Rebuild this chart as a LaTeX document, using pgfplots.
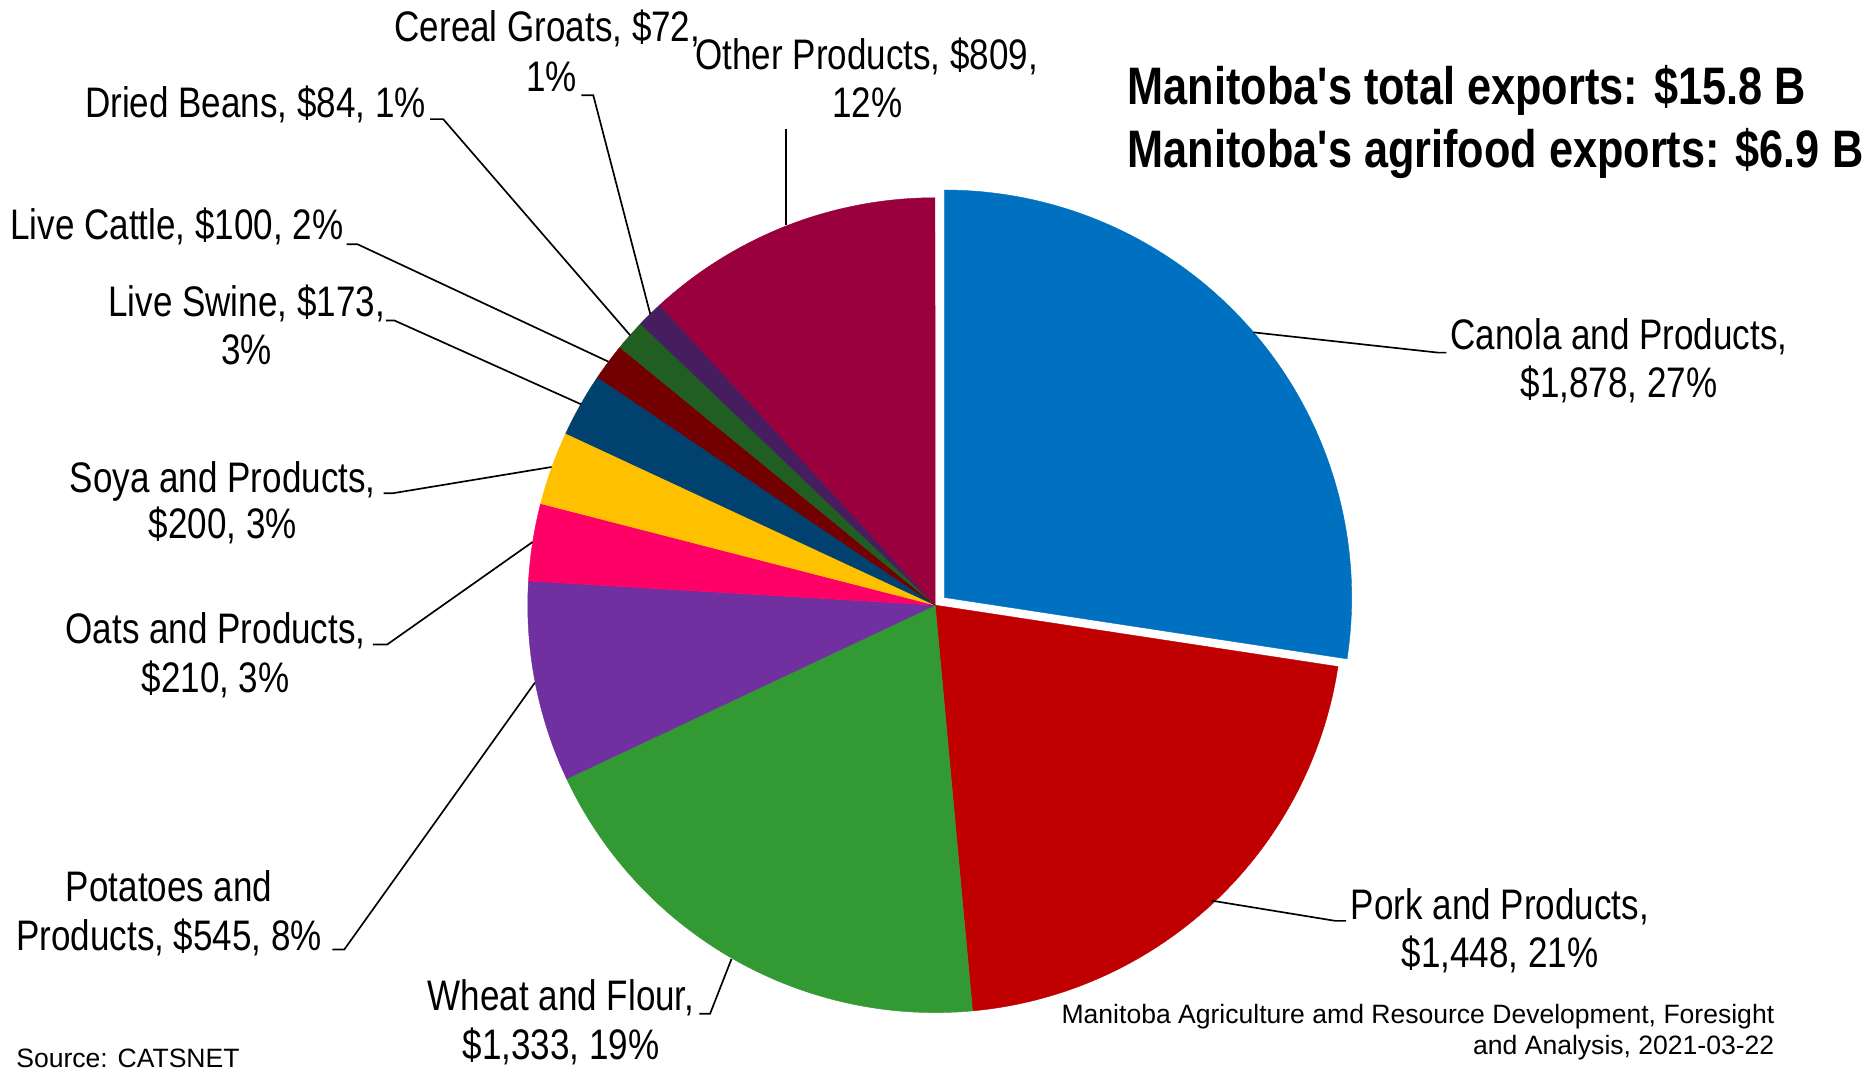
\documentclass[border=0pt]{standalone}
\usepackage{fontspec}
\setmainfont{Liberation Sans}
\newfontfamily\narrowfont[FakeStretch=0.82]{Liberation Sans}
\usepackage{pgfplots}
\pgfplotsset{compat=1.18}

\definecolor{cCanola}{HTML}{0070C0}
\definecolor{cPork}{HTML}{C00000}
\definecolor{cWheat}{HTML}{339933}
\definecolor{cPotato}{HTML}{7030A0}
\definecolor{cOats}{HTML}{FF0066}
\definecolor{cSoya}{HTML}{FFC000}
\definecolor{cSwine}{HTML}{00416F}
\definecolor{cCattle}{HTML}{720000}
\definecolor{cBeans}{HTML}{215E21}
\definecolor{cGroats}{HTML}{461E5F}
\definecolor{cOther}{HTML}{99003D}

% data (millions of dollars), clockwise from 12 o'clock
\def\vCanola{1878}
\def\vPork{1448}
\def\vWheat{1333}
\def\vPotato{545}
\def\vOats{210}
\def\vSoya{200}
\def\vSwine{173}
\def\vCattle{100}
\def\vBeans{84}
\def\vGroats{72}
\def\vOther{809}

\pgfmathsetmacro\total{\vCanola+\vPork+\vWheat+\vPotato+\vOats+\vSoya+\vSwine+\vCattle+\vBeans+\vGroats+\vOther}
\pgfmathsetmacro\aA{90}
\pgfmathsetmacro\aB{\aA-(\vCanola/\total)*360}
\pgfmathsetmacro\aC{\aB-(\vPork/\total)*360}
\pgfmathsetmacro\aD{\aC-(\vWheat/\total)*360}
\pgfmathsetmacro\aE{\aD-(\vPotato/\total)*360}
\pgfmathsetmacro\aF{\aE-(\vOats/\total)*360}
\pgfmathsetmacro\aG{\aF-(\vSoya/\total)*360}
\pgfmathsetmacro\aH{\aG-(\vSwine/\total)*360}
\pgfmathsetmacro\aI{\aH-(\vCattle/\total)*360}
\pgfmathsetmacro\aJ{\aI-(\vBeans/\total)*360}
\pgfmathsetmacro\aK{\aJ-(\vGroats/\total)*360}
\pgfmathsetmacro\aL{\aK-(\vOther/\total)*360}

\def\R{342}
\newcommand\pieslice[5]{%
  \addplot[fill=#1, draw=#1, line width=0.1pt, domain=#2:#3, samples=120, variable=\t]
    ({#4+\R*cos(\t)},{#5-\R*sin(\t)}) -- (#4,#5) -- cycle;}

\newcommand\lab{\narrowfont\fontsize{10.2}{11.7}\selectfont}
\newcommand\ttl{\narrowfont\bfseries\fontsize{12.6}{15}\selectfont}
\newcommand\foot{\fontsize{6.34}{7.4}\selectfont}

\begin{document}
\begin{tikzpicture}
\useasboundingbox (0,0) rectangle (15.68cm,8.99cm);
\begin{axis}[at={(0,0)}, anchor=south west, width=15.68cm, height=8.99cm,
  scale only axis, xmin=0, xmax=1568, ymin=0, ymax=899, y dir=reverse,
  hide axis, clip=false]

\pieslice{cCanola}{\aB}{\aA}{792.6}{501.5}
\pieslice{cPork}{\aC}{\aB}{785}{508}
\pieslice{cWheat}{\aD}{\aC}{785}{508}
\pieslice{cPotato}{\aE}{\aD}{785}{508}
\pieslice{cOats}{\aF}{\aE}{785}{508}
\pieslice{cSoya}{\aG}{\aF}{785}{508}
\pieslice{cSwine}{\aH}{\aG}{785}{508}
\pieslice{cCattle}{\aI}{\aH}{785}{508}
\pieslice{cBeans}{\aJ}{\aI}{785}{508}
\pieslice{cGroats}{\aK}{\aJ}{785}{508}
\pieslice{cOther}{\aL}{\aK}{785}{508}

% leader lines
\begin{scope}[line width=0.4pt, black]
\draw (1052,279) -- (1207,296) -- (1214,296);
\draw (1017,756) -- (1121,773) -- (1130,773);
\draw (614,805) -- (596,851) -- (587,851);
\draw (449,573) -- (289,797) -- (279,797);
\draw (447,455) -- (325,541) -- (313,541);
\draw (463,392) -- (330,414) -- (322,414);
\draw (487.6,339.3) -- (331,269) -- (324,269);
\draw (510.7,303.6) -- (300,205) -- (291,205);
\draw (528.9,281.4) -- (372,100) -- (361,100);
\draw (545.8,263.6) -- (498,80) -- (488,80);
\draw (660,189) -- (660,108);
\end{scope}

% labels
\begin{scope}[every node/.style={inner sep=0pt, anchor=base, font=\lab}]
\node at (1359,293) {Canola and Products,};
\node at (1359,334) {\$1,878, 27\%};
\node at (1259,772) {Pork and Products,};
\node at (1259,812) {\$1,448, 21\%};
\node at (471,848) {Wheat and Flour,};
\node at (471,889) {\$1,333, 19\%};
\node at (142,757) {Potatoes and};
\node at (142,798) {Products, \$545, 8\%};
\node at (181,540) {Oats and Products,};
\node at (181,581) {\$210, 3\%};
\node at (187,413) {Soya and Products,};
\node at (187,452) {\$200, 3\%};
\node at (207,266) {Live Swine, \$173,};
\node at (207,306) {3\%};
\node at (148.5,201) {Live Cattle, \$100, 2\%};
\node at (214.5,99) {Dried Beans, \$84, 1\%};
\node at (459.5,35) {Cereal Groats, \$72,};
\node at (463,77) {1\%};
\node at (727.5,58) {Other Products, \$809,};
\node at (728,99) {12\%};
\end{scope}

% titles
\node[inner sep=0pt, anchor=base west, font=\ttl] at (946,88) {Manitoba's total exports: \$15.8 B};
\node[inner sep=0pt, anchor=base west, font=\ttl] at (946,141) {Manitoba's agrifood exports: \$6.9 B};

% footer
\node[inner sep=0pt, anchor=base east, font=\foot] at (1490,859) {Manitoba Agriculture amd Resource Development, Foresight};
\node[inner sep=0pt, anchor=base east, font=\foot] at (1490,885) {and Analysis, 2021-03-22};
\node[inner sep=0pt, anchor=base west, font=\foot] at (13,896) {Source: CATSNET};

\end{axis}
\end{tikzpicture}
\end{document}
